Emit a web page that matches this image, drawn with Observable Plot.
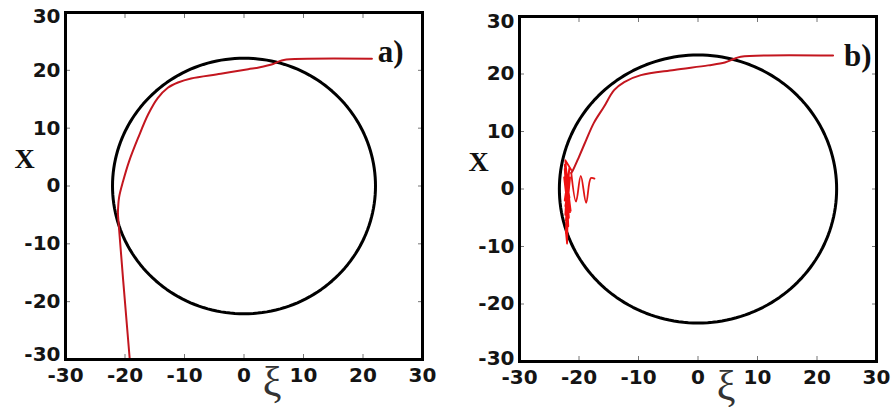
<!DOCTYPE html>
<html>
<head>
<meta charset="utf-8">
<script src="https://cdn.jsdelivr.net/npm/d3@7"></script>
<script src="https://cdn.jsdelivr.net/npm/@observablehq/plot@0.6"></script>
<style>
  html, body { margin: 0; padding: 0; background: #fff; }
  #wrap { position: relative; width: 892px; height: 407px; overflow: hidden; }
  #wrap > svg { position: absolute; top: 0; }
</style>
</head>
<body>
<div id="wrap"></div>
<script>
// ---------- data ----------
const tickValues = [-30, -20, -10, 0, 10, 20, 30];
const innerTicks = [-20, -10, 0, 10, 20];
const panelLabels = ["a)", "b)"];
const circleRadius = [22.1, 23.3];

// panel a) trajectory (xi, X)
const aXi = [21.5, 6.7, 5.8, 4.9, 2.5, 0.7, -3.9, -8.9, -11.1, -12.8, -14.5, -16.1, -17.8, -19.3, -20.3, -21.0, -21.2];
const aX  = [22.0, 21.8, 21.5, 21.1, 20.5, 20.2, 19.4, 18.6, 17.9, 17.0, 15.2, 12.4, 8.3, 4.3, 0.9, -2.0, -4.8];
// panel a) straight tail to the bottom edge
const aTailXi = [-21.2, -20.3, -19.2];
const aTailX  = [-4.8, -16.4, -30.0];

// panel b) trajectory (xi, X)
const bXi = [22.7, 7.2, 6.0, 4.5, 1.7, -4.0, -9.6, -12.4, -14.1, -15.8, -17.5, -18.8, -20.0, -21.0, -21.3];
const bX  = [23.2, 23.0, 22.6, 22.0, 21.5, 20.7, 19.8, 18.6, 17.2, 14.3, 11.5, 8.5, 5.6, 3.3, 2.8];
// panel b) damped wiggles to the right
const bWaveXi = [-21.3, -20.5, -19.7, -18.8, -18.0, -17.4];
const bWaveX  = [2.8, -2.2, 2.3, -2.4, 1.9, 1.8];

// panel b) dense oscillation burst near the left edge
const burstXi = [-21.3, -22.3, -21.6, -22.4, -21.4, -22.2, -21.7, -22.5, -21.5, -22.1, -21.8, -22.4, -21.6, -22.3, -21.5, -22.2, -21.7, -22.4, -21.6, -22.3, -21.9, -22.2, -22.0, -21.9, -22.1, -21.7, -21.5];
const burstX  = [3.3, 5.0, -2.5, 4.2, -3.8, 3.0, -5.0, 2.0, -4.0, 1.0, -6.5, 3.5, -1.5, -3.0, 2.0, -5.5, 1.5, -2.0, 3.8, -4.5, 2.5, -7.5, -9.5, -4.0, -6.0, 0.5, 2.0];

// ---------- helpers ----------
const toPts = (xs, ys) => xs.map((x, i) => ({xi: x, X: ys[i]}));
function circlePts(R) {
  return d3.range(0, 361, 2).map(a => ({xi: R * Math.cos(a * Math.PI / 180), X: R * Math.sin(a * Math.PI / 180)}));
}
const fmt = d => `${d}`;
const tickFont = "'DejaVu Sans', Verdana, sans-serif";
const serif = "'Liberation Serif', 'Times New Roman', serif";

function panel({label, R, lines, left, width, mL, mR, mT, mB, labDx, xiDy, topDy, botDy}) {
  const tickOpts = {tickSize: -5, text: null, stroke: "#777", strokeWidth: 1, label: null};
  const yLab = {anchor: "left", tickSize: 0, tickPadding: 5, tickFormat: fmt, fontSize: 20, fontWeight: "bold", fill: "#141414", label: null};
  const marks = [
    Plot.line(circlePts(R), {x: "xi", y: "X", stroke: "#000", strokeWidth: 3}),
    ...lines.map(l => Plot.line(l.data, {x: "xi", y: "X", stroke: l.color, strokeWidth: l.w, curve: l.curve})),
    // inward ticks on all four sides
    Plot.axisX(innerTicks, {anchor: "bottom", ...tickOpts}),
    Plot.axisX(innerTicks, {anchor: "top", ...tickOpts}),
    Plot.axisY(innerTicks, {anchor: "left", ...tickOpts}),
    Plot.axisY(innerTicks, {anchor: "right", ...tickOpts}),
    // tick labels
    Plot.axisX(tickValues, {anchor: "bottom", tickSize: 0, tickPadding: 8, tickFormat: fmt, fontSize: 20, fontWeight: "bold", fill: "#141414", label: null}),
    Plot.axisY(innerTicks, yLab),
    Plot.axisY(tickValues.slice(-1), {...yLab, dy: topDy}),
    Plot.axisY(tickValues.slice(0, 1), {...yLab, dy: botDy}),
    Plot.frame({stroke: "#000", strokeWidth: 3}),
    // axis titles and panel label
    Plot.text(["X"], {frameAnchor: "left", dx: -41, dy: -27, fontFamily: serif, fontWeight: "bold", fontSize: 28, fill: "#111", textAnchor: "middle"}),
    Plot.text(["ξ"], {frameAnchor: "bottom", dx: 28, dy: xiDy, fontFamily: serif, fontSize: 42, fill: "#333", textAnchor: "middle"}),
    Plot.text([label], {frameAnchor: "top-right", dx: labDx, dy: 27, fontFamily: serif, fontWeight: "bold", fontSize: 31, fill: "#111", textAnchor: "end"})
  ];
  const svg = Plot.plot({
    width, height: 407,
    marginLeft: mL, marginRight: mR, marginTop: mT, marginBottom: mB,
    x: {domain: [-30, 30], axis: null},
    y: {domain: [-30, 30], axis: null},
    clip: false,
    style: {fontFamily: tickFont, fontSize: "20px", background: "transparent", overflow: "visible"},
    marks
  });
  svg.style.left = left + "px";
  return svg;
}

const wrap = document.getElementById("wrap");
wrap.appendChild(panel({
  label: panelLabels[0], R: circleRadius[0],
  lines: [
    {data: toPts(aXi, aX), color: "#c3161f", w: 2, curve: "catmull-rom"},
    {data: toPts(aTailXi, aTailX), color: "#c3161f", w: 2, curve: "linear"}
  ],
  left: 0, width: 440, mL: 65, mR: 18, mT: 12, mB: 48, labDx: -19, xiDy: 36, topDy: 4, botDy: -5
}));
wrap.appendChild(panel({
  label: panelLabels[1], R: circleRadius[1],
  lines: [
    {data: toPts(burstXi, burstX), color: "#f01010", w: 1.8, curve: "linear"},
    {data: toPts(bXi, bX), color: "#c3161f", w: 2, curve: "catmull-rom"},
    {data: toPts(bWaveXi, bWaveX), color: "#e01414", w: 1.8, curve: "catmull-rom"}
  ],
  left: 450, width: 442, mL: 69, mR: 16, mT: 16, mB: 46, labDx: -5, xiDy: 38, topDy: 5, botDy: -3
}));
</script>
</body>
</html>
